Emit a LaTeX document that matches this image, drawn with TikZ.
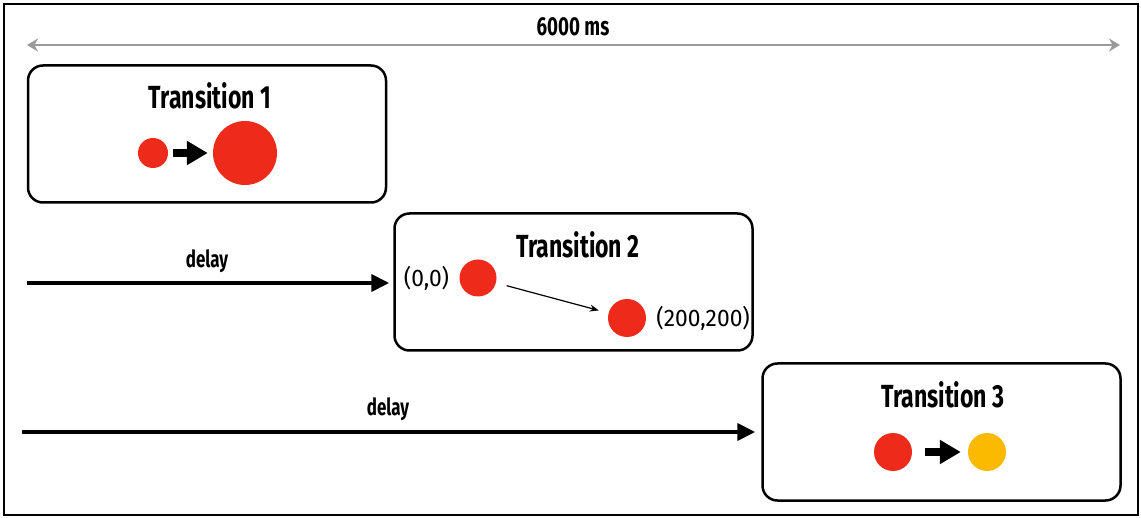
\documentclass[tikz,border=0pt]{standalone}
\usepackage{fontspec}
\setmainfont[FakeStretch=0.72]{Fira Sans}
\newfontfamily\coordfont[FakeStretch=0.95]{Fira Sans}
\usetikzlibrary{positioning,arrows.meta}
\definecolor{dotred}{HTML}{EE2B1A}
\definecolor{dotyellow}{HTML}{FBBA00}
\definecolor{rulegray}{HTML}{9A9A9A}
\tikzset{
  trbox/.style={draw,line width=2.5pt,rounded corners=15pt,minimum width=358pt,minimum height=137pt},
  trtitle/.style={font=\fontsize{32}{38}\selectfont\bfseries},
  dot/.style={circle,fill=#1,inner sep=0pt},
  delaylabel/.style={font=\fontsize{23.5}{28}\selectfont\bfseries},
  coordlabel/.style={font=\coordfont\fontsize{24}{28}\selectfont,inner sep=0pt},
  bigarrow/.style={line width=4pt,-{Triangle[length=18pt,width=17pt]}},
  miniarrow/.style={line width=8pt,-{Triangle[length=21pt,width=23pt]}}
}
\begin{document}
\begin{tikzpicture}[x=1pt,y=-1pt]
\useasboundingbox (0,0) rectangle (1141,518);
% Frame
\draw[line width=2pt] (4,4) rectangle (1138,515);
% Total duration
\coordinate (tstart) at (27,45);
\coordinate (tend) at (1120,45);
\draw[rulegray,line width=2.2pt,{Stealth[length=11pt,width=13pt]}-{Stealth[length=11pt,width=13pt]}] (tstart)--(tend);
\node[delaylabel,font=\fontsize{26}{30}\selectfont\bfseries] (total) at (573,27) {6000 ms};
% Transition 1
\node[trbox] (b1) at (207,134) {};
\node[trtitle] (t1) at (210,96) {Transition 1};
\node[dot=dotred,minimum size=30pt] (s1) at (153,153) {};
\node[dot=dotred,minimum size=64pt] (l1) at (245,153) {};
\draw[miniarrow,shorten <=5pt,shorten >=5pt] (s1) -- (l1);
% Transition 2
\node[trbox] (b2) at (573.5,282) {};
\node[trtitle] (t2) at (578,245) {Transition 2};
\node[dot=dotred,minimum size=37pt] (p1) at (478,278) {};
\node[dot=dotred,minimum size=38pt] (p2) at (627,318) {};
\node[coordlabel,left=10pt of p1] (p1l) {(0,0)};
\node[coordlabel,right=10pt of p2] (p2l) {(200,200)};
\draw[line width=1.2pt,-{Stealth[length=9pt,width=7pt]},shorten <=11pt,shorten >=10pt] (p1) -- (p2);
\coordinate (d1) at (27,283);
\draw[bigarrow,shorten >=4pt] (d1) -- (d1-|b2.west);
\node[delaylabel] (dl1) at (207,261) {delay};
% Transition 3
\node[trbox] (b3) at (941.5,432) {};
\node[trtitle] (t3) at (943,395) {Transition 3};
\node[dot=dotred,minimum size=38pt] (r3) at (893,452) {};
\node[dot=dotyellow,minimum size=38pt] (y3) at (987,452) {};
\draw[miniarrow,shorten <=13pt,shorten >=7pt] (r3) -- (y3);
\coordinate (d2) at (22,432);
\draw[bigarrow,shorten >=6pt] (d2) -- (d2-|b3.west);
\node[delaylabel] (dl2) at (388,409) {delay};
\end{tikzpicture}
\end{document}
